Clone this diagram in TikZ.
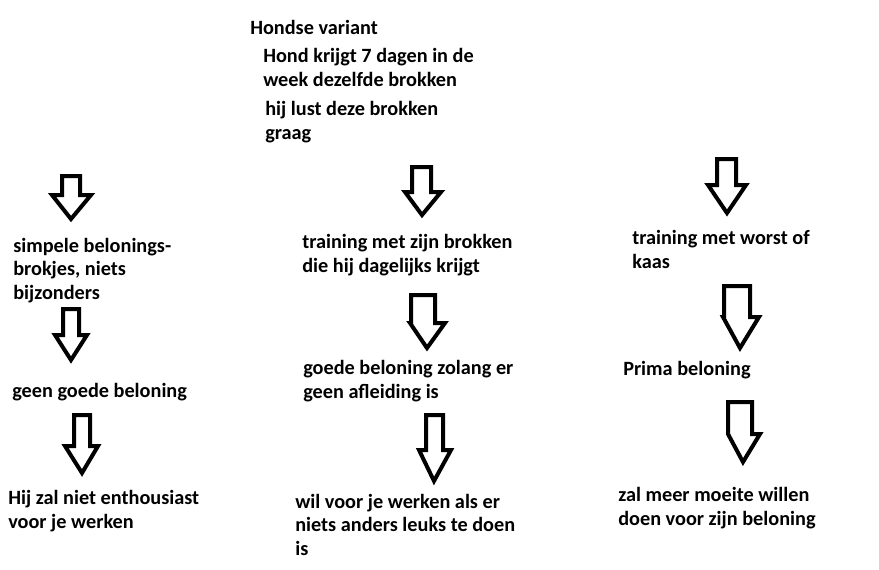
\documentclass[tikz,border=0pt]{standalone}
\usepackage{fontspec}
\setmainfont{Carlito}
\begin{document}
\begin{tikzpicture}[x=0.75pt,y=-0.75pt,
  lbl/.style={anchor=base west,inner sep=0pt,align=left,text=black,
    font=\fontsize{15.2pt}{17.6pt}\selectfont\bfseries},
  blockarrowline/.style={draw=black,line width=3pt,line join=miter,fill=white}]
\fill[white] (0,0) rectangle (879,569);
\useasboundingbox (0,0) rectangle (879,569);
\newcommand\blockarrow[8]{%
  \draw[blockarrowline] ({#1+2},{#4+2}) -- ({#1+2},{#3+2}) -- ({#2-2},{#3+2}) -- ({#2-2},{#4+2})
    -- ({#6-2},{#4+2}) -- (#7,{#8-3}) -- ({#5+2},{#4+2}) -- cycle;}
% header (positions are the baseline of each text's last line)
\node[lbl] (title) at (250,34) {Hondse variant};
\node[lbl] (h1) at (263,86) {Hond krijgt 7 dagen in de\\week dezelfde brokken};
\node[lbl] (h2) at (265,139) {hij lust deze brokken\\graag};
% left column
\node[lbl] (l1) at (13,299) {simpele belonings-\\brokjes, niets\\bijzonders};
\node[lbl] (l2) at (12,397) {geen goede beloning};
\node[lbl] (l3) at (8,528) {Hij zal niet enthousiast\\voor je werken};
% middle column
\node[lbl] (m1) at (302,272) {training met zijn brokken\\die hij dagelijks krijgt};
\node[lbl] (m2) at (303,398) {goede beloning zolang er\\geen afleiding is};
\node[lbl] (m3) at (295,555) {wil voor je werken als er\\niets anders leuks te doen\\is};
% right column
\node[lbl] (r1) at (632,268) {training met worst of\\kaas};
\node[lbl] (r2) at (623,375) {Prima beloning};
\node[lbl] (r3) at (618,525) {zal meer moeite willen\\doen voor zijn beloning};
% block arrows
\blockarrow{60}{82}{174}{193}{50}{93}{71}{222}
\blockarrow{410}{433}{165}{190}{403}{443}{422}{218}
\blockarrow{715}{738}{157}{183}{706}{748}{727}{216}
\blockarrow{61}{81}{307}{333}{53}{89}{71}{363}
\blockarrow{72}{92}{413}{444}{63}{100}{82}{476}
\blockarrow{409}{437}{293}{321}{408}{447}{427}{351}
\blockarrow{424}{445}{413}{448}{417}{453}{434}{484}
\blockarrow{722}{752}{284}{315}{721}{761}{740}{351}
\blockarrow{726}{754}{400}{432}{726}{762}{743}{465}
\end{tikzpicture}
\end{document}
